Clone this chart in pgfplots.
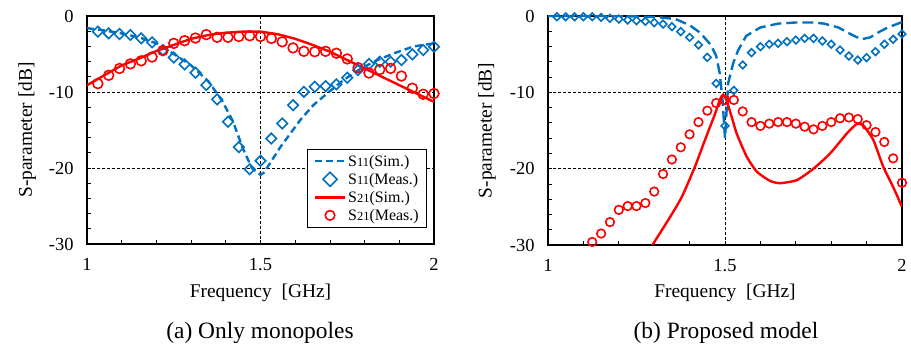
\documentclass[border=0pt]{standalone}
\usepackage{fontspec}
\setmainfont{Liberation Serif}
\usepackage{pgfplots}
\pgfplotsset{compat=1.18}
\definecolor{sblue}{RGB}{0,112,192}
\definecolor{sred}{RGB}{255,0,0}

\pgfplotstableread{
f db
1.03125 -2.06
1.0625 -2.28
1.09375 -2.37
1.125 -2.50
1.15625 -2.94
1.1875 -3.47
1.21875 -4.48
1.25 -5.45
1.28125 -6.37
1.3125 -7.47
1.34375 -9.09
1.375 -10.98
1.40625 -13.92
1.4375 -17.26
1.46875 -20.16
1.5 -19.06
1.53125 -16.12
1.5625 -14.14
1.59375 -11.73
1.625 -9.97
1.65625 -9.31
1.6875 -9.22
1.71875 -9.00
1.75 -8.12
1.78125 -7.11
1.8125 -6.32
1.84375 -6.02
1.875 -6.02
1.90625 -5.80
1.9375 -5.05
1.96875 -4.48
2.0 -4.04
}\aSmeas

\pgfplotstableread{
f db
1.00 -1.6
1.05 -1.9
1.10 -2.3
1.15 -2.8
1.20 -3.6
1.25 -5.0
1.30 -6.5
1.35 -8.6
1.39 -11.2
1.42 -13.8
1.45 -17.5
1.475 -20.0
1.50 -20.9
1.51 -20.6
1.534 -18.9
1.558 -17.2
1.587 -15.4
1.616 -13.6
1.653 -11.7
1.697 -10.0
1.74 -8.4
1.79 -6.9
1.837 -5.8
1.885 -4.9
1.942 -4.0
2.00 -3.6
}\aSsim

\pgfplotstableread{
f db
1.00 -9.1
1.05 -7.8
1.10 -6.5
1.15 -5.6
1.20 -4.6
1.25 -3.8
1.30 -3.0
1.35 -2.5
1.40 -2.2
1.45 -2.05
1.50 -2.05
1.55 -2.4
1.60 -3.0
1.65 -3.8
1.70 -4.7
1.75 -5.8
1.80 -6.9
1.85 -8.0
1.90 -9.1
1.95 -10.2
2.00 -11.3
}\aTsim

\pgfplotstableread{
f db
1.03125 -8.9
1.0625 -7.8
1.09375 -6.9
1.125 -6.3
1.15625 -5.9
1.1875 -5.4
1.21875 -4.55
1.25 -3.6
1.28125 -3.25
1.3125 -2.9
1.34375 -2.45
1.375 -2.8
1.40625 -2.8
1.4375 -2.7
1.46875 -2.6
1.5 -2.7
1.53125 -2.95
1.5625 -3.4
1.59375 -4.2
1.625 -4.65
1.65625 -4.7
1.6875 -4.65
1.71875 -4.9
1.75 -5.65
1.78125 -6.8
1.8125 -7.5
1.84375 -7.05
1.875 -6.9
1.90625 -7.9
1.9375 -9.5
1.96875 -10.3
2.0 -10.2
}\aTmeas

\pgfplotstableread{
f db
1.025 -0.1
1.05 -0.1
1.075 -0.1
1.1 -0.1
1.125 -0.1
1.15 -0.18
1.175 -0.3
1.2 -0.4
1.225 -0.52
1.25 -0.61
1.275 -0.7
1.3 -0.87
1.325 -1.05
1.35 -1.4
1.375 -2.05
1.4 -2.8
1.425 -3.8
1.45 -5.42
1.475 -8.83
1.5 -14.4
1.525 -9.75
1.55 -6.42
1.575 -4.8
1.6 -4.02
1.625 -3.7
1.65 -3.58
1.675 -3.37
1.7 -3.15
1.725 -2.93
1.75 -2.93
1.775 -3.28
1.8 -3.7
1.825 -4.46
1.85 -5.24
1.875 -5.77
1.9 -5.46
1.925 -4.68
1.95 -3.7
1.975 -3.06
2.0 -2.36
}\bSmeas

\pgfplotstableread{
f db
1.00 0
1.10 0
1.20 0
1.28 -0.1
1.32 -0.2
1.36 -0.4
1.40 -1.2
1.43 -2.2
1.46 -3.8
1.475 -5.2
1.485 -7.5
1.493 -11
1.50 -16
1.509 -8.8
1.523 -6.2
1.537 -4.5
1.56 -2.6
1.60 -1.5
1.65 -1.0
1.70 -0.85
1.75 -0.85
1.78 -1.0
1.82 -1.5
1.86 -2.5
1.885 -3.05
1.91 -2.8
1.935 -2.1
1.96 -1.5
2.00 -0.8
}\bSsim

\pgfplotstableread{
f db
1.295 -30
1.34 -26.7
1.378 -23.7
1.415 -19.75
1.443 -16.3
1.472 -12.8
1.486 -10.9
1.495 -10.3
1.504 -11.0
1.52 -13.4
1.533 -15.4
1.561 -18.4
1.59 -20.4
1.627 -21.6
1.655 -21.9
1.703 -21.5
1.75 -20
1.797 -18
1.844 -15.4
1.872 -14.15
1.89 -14.3
1.919 -16.25
1.947 -19.75
1.975 -22.4
2.0 -25
}\bTsim

\pgfplotstableread{
f db
1.125 -29.6
1.15 -28.5
1.175 -27.0
1.2 -25.4
1.225 -24.9
1.25 -24.9
1.275 -24.5
1.3 -23.0
1.325 -20.7
1.35 -18.8
1.375 -17.2
1.4 -15.5
1.425 -13.9
1.45 -12.4
1.475 -11.4
1.5 -11.0
1.525 -11.0
1.55 -12.5
1.575 -13.9
1.6 -14.4
1.625 -14.1
1.65 -13.9
1.675 -13.9
1.7 -14.1
1.725 -14.5
1.75 -14.85
1.775 -14.4
1.8 -13.9
1.825 -13.4
1.85 -13.3
1.875 -13.5
1.9 -14.3
1.925 -15.2
1.95 -16.5
1.975 -18.65
2.0 -21.85
}\bTmeas

\pgfplotsset{
  spstyle/.style={
    scale only axis,
    xmin=1, xmax=2, ymin=-30, ymax=0,
    xtick={1,1.5,2}, xticklabels={1,1.5,2},
    ytick={-30,-20,-10,0}, yticklabels={-30,-20,-10,0},
    minor x tick num=4, minor y tick num=4,
    tick pos=left, tick align=inside,
    major tick length=4bp, minor tick length=4bp,
    grid=major,
    major grid style={black, line width=0.7bp, dash pattern=on 3bp off 2bp},
    axis line style={line width=1.3bp},
    every tick/.style={black, line width=0.8bp},
    tick label style={font=\fontsize{18.5}{20}\selectfont},
    xticklabel style={yshift=-11bp},
    yticklabel style={xshift=-10bp},
    label style={font=\fontsize{19.5}{22}\selectfont},
    xlabel={Frequency\ \ [GHz]},
    ylabel={S-parameter [dB]},
    ylabel style={anchor=base, rotate=0},
    xlabel style={anchor=base},
  },
  simS/.style={sblue, line width=2.4bp, dash pattern=on 8bp off 5bp, no marks},
  measS/.style={only marks, sblue, mark=square, mark options={solid, rotate=45, line width=1.6bp}},
  simT/.style={sred, line width=2.4bp, solid, no marks},
  measT/.style={only marks, sred, mark=o, mark options={solid, line width=1.6bp}},
}

\newcommand{\Ssub}[1]{S{\fontsize{12.5}{14}\selectfont #1}}

\begin{document}
\begin{tikzpicture}[x=1bp,y=1bp]
\begin{axis}[spstyle,
  at={(87bp,105bp)}, anchor=south west,
  width=347bp, height=228bp,
  xlabel style={at={(axis description cs:0.5,-0.2355)}},
  ylabel style={at={(axis description cs:-0.159,0.5)}},
  legend style={at={(axis description cs:0.98,0.07)}, anchor=south east,
     draw=black, line width=0.8bp, font=\fontsize{16}{18}\selectfont,
     inner xsep=6bp, inner ysep=4bp, row sep=1.5bp,
     legend cell align=left},
  legend image code/.code={\draw[mark repeat=2,mark phase=2] plot coordinates {(0bp,0bp) (15bp,0bp) (30bp,0bp)};},
]
\addplot[simS, dash pattern=on 7bp off 4bp] table {\aSsim};
\addlegendentry{\Ssub{11}(Sim.)}
\addplot[measS, mark size=3.7bp,
  legend image code/.code={\draw[mark size=5bp] plot coordinates {(15bp,0bp)};}] table {\aSmeas};
\addlegendentry{\Ssub{11}(Meas.)}
\addplot[simT] table {\aTsim};
\addlegendentry{\Ssub{21}(Sim.)}
\addplot[measT, mark size=4.9bp,
  legend image code/.code={\draw[mark size=4.8bp] plot coordinates {(15bp,0bp)};}] table {\aTmeas};
\addlegendentry{\Ssub{21}(Meas.)}
\end{axis}

\begin{axis}[spstyle,
  at={(548bp,104bp)}, anchor=south west,
  width=354bp, height=229bp,
  xlabel style={at={(axis description cs:0.5,-0.230)}},
  ylabel style={at={(axis description cs:-0.159,0.5)}},
]
\addplot[simS, dash pattern=on 11bp off 5bp] table {\bSsim};
\addplot[measS, mark size=2.7bp] table {\bSmeas};
\addplot[simT, smooth, tension=0.35] table {\bTsim};
\addplot[measT, mark size=4.3bp] table {\bTmeas};
\end{axis}

\node[anchor=base, font=\fontsize{23.5}{26}\selectfont] at (260bp,11bp) {(a) Only monopoles};
\node[anchor=base, font=\fontsize{23.5}{26}\selectfont] at (726bp,11bp) {(b) Proposed model};
\pgfresetboundingbox
\path[use as bounding box] (0bp,0bp) rectangle (911bp,349bp);
\end{tikzpicture}
\end{document}
